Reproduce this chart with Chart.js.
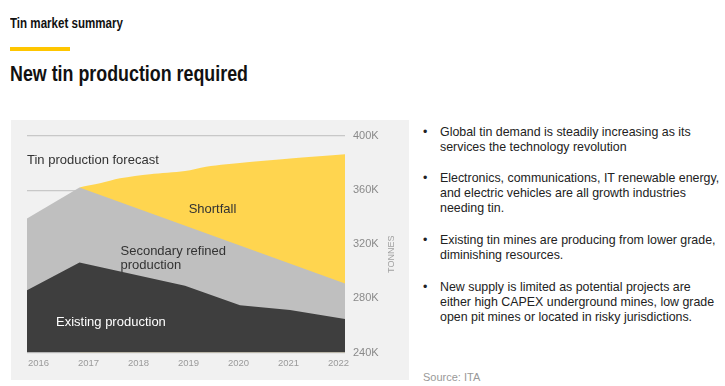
<!DOCTYPE html>
<html>
<head>
<meta charset="utf-8">
<script src="https://cdn.jsdelivr.net/npm/chart.js@4/dist/chart.umd.min.js"></script>
<style>
  body { margin: 0; background: #fff; width: 725px; height: 386px; overflow: hidden; position: relative; font-family: "Liberation Sans", Arial, sans-serif; }
  .kicker { position: absolute; left: 10px; top: 15.5px; font: bold 14.5px/14px "Liberation Sans", Arial, sans-serif; color: #111; white-space: nowrap; transform-origin: 0 0; }
  .bar { position: absolute; left: 10px; top: 47px; width: 60px; height: 4px; background: #ffc600; }
  .title { position: absolute; left: 10px; top: 63.5px; font: bold 21.5px/21px "Liberation Sans", Arial, sans-serif; color: #111; white-space: nowrap; transform-origin: 0 0; }
  .panel { position: absolute; left: 11px; top: 120px; width: 398px; height: 260px; background: #f1f1f1; }
  .bullets { position: absolute; left: 440px; top: 124.5px; font-size: 12.4px; line-height: 15px; color: #222; }
  .bullets div { position: relative; margin-bottom: 16.8px; white-space: nowrap; }
  .bullets div::before { content: "\2022"; position: absolute; left: -17px; }
  .source { position: absolute; left: 423px; top: 370px; font-size: 11px; line-height: 14px; color: #999; }
</style>
</head>
<body>
<div class="kicker" id="kicker">Tin market summary</div>
<div class="bar"></div>
<div class="title" id="title">New tin production required</div>
<div class="panel"><canvas id="chart" width="398" height="260"></canvas></div>
<div class="bullets">
  <div>Global tin demand is steadily increasing as its<br>services the technology revolution</div>
  <div>Electronics, communications, IT renewable energy,<br>and electric vehicles are all growth industries<br>needing tin.</div>
  <div>Existing tin mines are producing from lower grade,<br>diminishing resources.</div>
  <div>New supply is limited as potential projects are<br>either high CAPEX underground mines, low grade<br>open pit mines or located in risky jurisdictions.</div>
</div>
<div class="source">Source: ITA</div>
<script>
// values in thousand tonnes, x in (fractional) years
const tickYears = [2016, 2017, 2018, 2019, 2020, 2021, 2022];
const existingYears = [2015.77, 2016.82, 2018.93, 2020.03, 2021.03, 2022.13];
const existingValues = [286, 306.5, 289.4, 275, 271.4, 264.7];
const secondaryYears = [2015.77, 2016.82, 2022.13];
const secondaryValues = [339, 362, 291];
const forecastYears = [2016.82, 2017.23, 2017.63, 2018.23, 2018.93, 2019.35, 2020.17, 2021.09, 2022.13];
const forecastValues = [362, 365, 368.7, 371.7, 374.1, 377.3, 380.6, 383.5, 386.5];
const yTicks = [240, 280, 320, 360, 400];

const toPoints = (xs, ys) => xs.map((x, i) => ({ x: x, y: ys[i] }));

// squeeze the headings to the condensed look of the original
function squeeze(id, target) {
  const el = document.getElementById(id);
  el.style.transform = 'scaleX(' + (target / el.getBoundingClientRect().width) + ')';
}
squeeze('kicker', 113);
squeeze('title', 238);

// text written on the areas, placed in data units
const areaLabels = [
  { text: 'Tin production forecast', x: 2015.77, y: 382.3, align: 'left', color: '#333' },
  { text: 'Shortfall', x: 2019.48, y: 345.8, align: 'center', color: '#333' },
  { text: 'Secondary refined', x: 2017.64, y: 314.5, align: 'left', color: '#333' },
  { text: 'production', x: 2017.64, y: 304.7, align: 'left', color: '#333' },
  { text: 'Existing production', x: 2016.35, y: 262.3, align: 'left', color: '#fff' }
];

const labelPlugin = {
  id: 'areaLabels',
  afterDraw(chart) {
    const ctx = chart.ctx;
    const xs = chart.scales.x, ys = chart.scales.y;
    ctx.save();
    ctx.font = '13px "Liberation Sans", Arial, sans-serif';
    ctx.textBaseline = 'middle';
    areaLabels.forEach(l => {
      ctx.fillStyle = l.color;
      ctx.textAlign = l.align;
      ctx.fillText(l.text, xs.getPixelForValue(l.x), ys.getPixelForValue(l.y));
    });
    // rotated axis title, reading bottom to top
    ctx.translate(ys.right - 17, (ys.top + ys.bottom) / 2 + 10);
    ctx.rotate(-Math.PI / 2);
    ctx.textAlign = 'center';
    ctx.fillStyle = '#a0a0a0';
    ctx.font = '9px "Liberation Sans", sans-serif';
    ctx.fillText('TONNES', 0, 0);
    ctx.restore();
  }
};

new Chart(document.getElementById('chart'), {
  type: 'line',
  data: {
    datasets: [
      { label: 'Existing production', data: toPoints(existingYears, existingValues),
        backgroundColor: '#3e3e3e', fill: 'start' },
      { label: 'Secondary refined production', data: toPoints(secondaryYears, secondaryValues),
        backgroundColor: '#bfbfbf', fill: 'start' },
      { label: 'Tin production forecast', data: toPoints(forecastYears, forecastValues),
        backgroundColor: '#ffd54f', fill: 'start', tension: 0.3 }
    ]
  },
  options: {
    responsive: false,
    animation: false,
    events: [],
    layout: { padding: { left: 16, top: 16 } },
    elements: { point: { radius: 0 }, line: { borderWidth: 0 } },
    plugins: { legend: { display: false }, tooltip: { enabled: false } },
    scales: {
      x: {
        type: 'linear',
        min: existingYears[0],
        max: existingYears[existingYears.length - 1],
        afterBuildTicks: scale => { scale.ticks = tickYears.map(v => ({ value: v })); },
        afterFit: scale => { scale.height = 27.5; },
        grid: { display: false, drawTicks: false },
        border: { display: false },
        ticks: {
          padding: 5,
          color: '#9a9a9a',
          font: { family: '"Liberation Sans", sans-serif', size: 9.5 },
          callback: v => String(v)
        }
      },
      y: {
        position: 'right',
        min: 240,
        max: 400,
        z: 1,
        afterBuildTicks: scale => { scale.ticks = yTicks.map(v => ({ value: v })); },
        afterFit: scale => { scale.width = 64; },
        border: { display: false },
        grid: { color: 'rgba(150,150,150,0.45)', lineWidth: 1.2, drawTicks: false },
        ticks: {
          padding: 8,
          color: '#8a8a8a',
          font: { family: '"Liberation Sans", Arial, sans-serif', size: 11 },
          callback: v => v + 'K'
        }
      }
    }
  },
  plugins: [labelPlugin]
});
</script>
</body>
</html>
